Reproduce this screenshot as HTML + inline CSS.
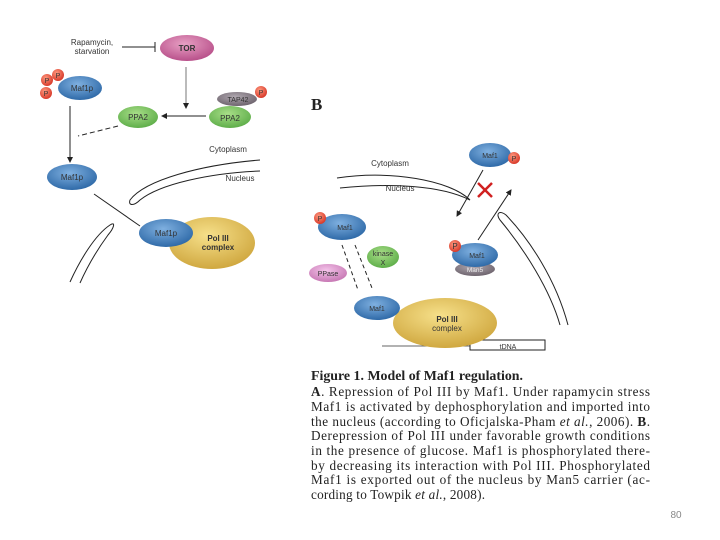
<!DOCTYPE html>
<html><head><meta charset="utf-8"><style>
html,body{margin:0;padding:0;background:#fff;width:720px;height:540px;overflow:hidden}
svg{display:block}
.s{font-family:"Liberation Sans",sans-serif;font-size:8px;fill:#333}
.c{font-family:"Liberation Serif",serif;font-size:13.2px;fill:#222}
</style></head><body>
<svg width="720" height="540" viewBox="0 0 720 540" xmlns="http://www.w3.org/2000/svg">
<defs>
<radialGradient id="bl" cx="45%" cy="35%" r="65%"><stop offset="0" stop-color="#7fb0e0"/><stop offset="1" stop-color="#2f6aa8"/></radialGradient>
<radialGradient id="yl" cx="45%" cy="35%" r="65%"><stop offset="0" stop-color="#f6e08a"/><stop offset="1" stop-color="#d0a840"/></radialGradient>
<radialGradient id="gr" cx="45%" cy="35%" r="65%"><stop offset="0" stop-color="#a8de88"/><stop offset="1" stop-color="#5fae4a"/></radialGradient>
<radialGradient id="pk" cx="45%" cy="35%" r="65%"><stop offset="0" stop-color="#f4c4ea"/><stop offset="1" stop-color="#c778b4"/></radialGradient>
<radialGradient id="tr" cx="45%" cy="35%" r="65%"><stop offset="0" stop-color="#e8a0c4"/><stop offset="1" stop-color="#b8508a"/></radialGradient>
<radialGradient id="gy" cx="45%" cy="35%" r="65%"><stop offset="0" stop-color="#b0a8b0"/><stop offset="1" stop-color="#6e646e"/></radialGradient>
<radialGradient id="rd" cx="40%" cy="35%" r="65%"><stop offset="0" stop-color="#ff9a80"/><stop offset="1" stop-color="#d83a2a"/></radialGradient>
<marker id="ar" markerWidth="6" markerHeight="6" refX="5" refY="3" orient="auto"><path d="M0,0 L6,3 L0,6 z" fill="#222"/></marker>
</defs>
<g stroke="#222" fill="none" stroke-width="1">
<!-- A -->
<line x1="122" y1="47" x2="155" y2="47"/><line x1="155" y1="42" x2="155" y2="52"/>
<line x1="186" y1="67" x2="186" y2="108" stroke="#777" marker-end="url(#ar)"/>
<line x1="206" y1="116" x2="162" y2="116" marker-end="url(#ar)"/>
<line x1="118" y1="126" x2="78" y2="136" stroke-dasharray="5,3"/>
<line x1="70" y1="106" x2="70" y2="162" marker-end="url(#ar)"/>
<line x1="94" y1="194" x2="140" y2="226"/>
<path d="M260,160 C200,165 145,180 130,200 C128,206 134,206 140,200 C160,184 210,173 260,171"/>
<path d="M70,282 C80,260 95,235 110,225 C116,221 114,228 108,235 C97,250 88,265 80,283"/>
<!-- B -->
<path d="M337,178 C390,170 450,180 470,200 C440,185 390,183 340,188"/>
<line x1="483" y1="170" x2="457" y2="216" marker-end="url(#ar)"/>
<line x1="478" y1="240" x2="511" y2="190" marker-end="url(#ar)"/>
<path d="M560,325 C550,290 525,250 500,220 C495,213 500,210 506,215 C530,240 556,280 568,325"/>
<line x1="342" y1="245" x2="358" y2="290" stroke-dasharray="4,3"/>
<line x1="355" y1="245" x2="372" y2="288" stroke-dasharray="4,3"/>
<line x1="382" y1="346" x2="545" y2="346" stroke="#666"/>
<rect x="470" y="340" width="75" height="10" fill="#fff"/>
</g>
<g stroke="#d02020" stroke-width="2.5"><line x1="478" y1="183" x2="492" y2="197"/><line x1="492" y1="183" x2="478" y2="197"/></g>
<!-- shapes A -->
<ellipse cx="187" cy="48" rx="27" ry="13" fill="url(#tr)"/>
<ellipse cx="80" cy="88" rx="22" ry="12" fill="url(#bl)"/>
<circle cx="58" cy="75" r="6" fill="url(#rd)"/><circle cx="47" cy="80" r="6" fill="url(#rd)"/><circle cx="46" cy="93" r="6" fill="url(#rd)"/>
<ellipse cx="138" cy="117" rx="20" ry="11" fill="url(#gr)"/>
<ellipse cx="237" cy="99" rx="20" ry="7" fill="url(#gy)"/>
<ellipse cx="230" cy="117" rx="21" ry="11" fill="url(#gr)"/>
<circle cx="261" cy="92" r="6" fill="url(#rd)"/>
<ellipse cx="72" cy="177" rx="25" ry="13" fill="url(#bl)"/>
<ellipse cx="212" cy="243" rx="43" ry="26" fill="url(#yl)"/>
<ellipse cx="166" cy="233" rx="27" ry="14" fill="url(#bl)"/>
<!-- shapes B -->
<ellipse cx="490" cy="155" rx="21" ry="12" fill="url(#bl)"/><circle cx="514" cy="158" r="6" fill="url(#rd)"/>
<ellipse cx="342" cy="227" rx="24" ry="13" fill="url(#bl)"/><circle cx="320" cy="218" r="6" fill="url(#rd)"/>
<ellipse cx="383" cy="257" rx="16" ry="11" fill="url(#gr)"/>
<ellipse cx="328" cy="273" rx="19" ry="9" fill="url(#pk)"/>
<ellipse cx="445" cy="323" rx="52" ry="25" fill="url(#yl)"/>
<ellipse cx="377" cy="308" rx="23" ry="12" fill="url(#bl)"/>
<ellipse cx="475" cy="269" rx="20" ry="7" fill="url(#gy)"/>
<ellipse cx="475" cy="255" rx="23" ry="12" fill="url(#bl)"/><circle cx="455" cy="246" r="6" fill="url(#rd)"/>
<!-- labels -->
<g class="s">
<text x="92" y="45" text-anchor="middle">Rapamycin,</text><text x="92" y="54" text-anchor="middle">starvation</text>
<text x="187" y="51" text-anchor="middle" font-weight="bold">TOR</text>
<text x="82" y="91" text-anchor="middle">Maf1p</text>
<text x="58" y="78" text-anchor="middle" font-size="7">P</text><text x="47" y="83" text-anchor="middle" font-size="7">P</text><text x="46" y="96" text-anchor="middle" font-size="7">P</text>
<text x="138" y="120" text-anchor="middle">PPA2</text>
<text x="230" y="121" text-anchor="middle">PPA2</text>
<text x="238" y="102" text-anchor="middle" font-size="7">TAP42</text>
<text x="261" y="95" text-anchor="middle" font-size="7">P</text>
<text x="228" y="152" text-anchor="middle">Cytoplasm</text>
<text x="240" y="181" text-anchor="middle">Nucleus</text>
<text x="72" y="180" text-anchor="middle">Maf1p</text>
<text x="166" y="236" text-anchor="middle">Maf1p</text>
<text x="218" y="241" text-anchor="middle" font-weight="bold">Pol III</text><text x="218" y="250" text-anchor="middle" font-weight="bold">complex</text>
<text x="490" y="158" text-anchor="middle" font-size="7">Maf1</text><text x="514" y="161" text-anchor="middle" font-size="7">P</text>
<text x="390" y="166" text-anchor="middle">Cytoplasm</text>
<text x="400" y="191" text-anchor="middle">Nucleus</text>
<text x="345" y="230" text-anchor="middle" font-size="7">Maf1</text><text x="320" y="221" text-anchor="middle" font-size="7">P</text>
<text x="383" y="256" text-anchor="middle" font-size="7">kinase</text><text x="383" y="265" text-anchor="middle" font-size="7">X</text>
<text x="328" y="276" text-anchor="middle" font-size="7">PPase</text>
<text x="377" y="311" text-anchor="middle" font-size="7">Maf1</text>
<text x="447" y="322" text-anchor="middle" font-weight="bold">Pol III</text><text x="447" y="331" text-anchor="middle">complex</text>
<text x="477" y="258" text-anchor="middle" font-size="7">Maf1</text><text x="455" y="249" text-anchor="middle" font-size="8">P</text>
<text x="475" y="272" text-anchor="middle" font-size="6.5" fill="#eee">Man5</text>
<text x="508" y="349" text-anchor="middle" font-size="7">tDNA</text>
</g>
<text x="311" y="110" font-family="Liberation Serif,serif" font-weight="bold" font-size="17" fill="#222">B</text>
<g class="c">
<text x="311" y="380" font-weight="bold" textLength="212" lengthAdjust="spacingAndGlyphs">Figure 1. Model of Maf1 regulation.</text>
<text x="311" y="396" textLength="339" lengthAdjust="spacing"><tspan font-weight="bold">A</tspan>. Repression of Pol III by Maf1. Under rapamycin stress</text>
<text x="311" y="411" textLength="339" lengthAdjust="spacing">Maf1 is activated by dephosphorylation and imported into</text>
<text x="311" y="426" textLength="339" lengthAdjust="spacing">the nucleus (according to Oficjalska-Pham <tspan font-style="italic">et al.</tspan>, 2006). <tspan font-weight="bold">B</tspan>.</text>
<text x="311" y="440" textLength="339" lengthAdjust="spacing">Derepression of Pol III under favorable growth conditions</text>
<text x="311" y="455" textLength="339" lengthAdjust="spacing">in the presence of glucose.  Maf1 is phosphorylated there-</text>
<text x="311" y="470" textLength="339" lengthAdjust="spacing">by decreasing its interaction with Pol III. Phosphorylated</text>
<text x="311" y="484" textLength="339" lengthAdjust="spacing">Maf1 is exported out of the nucleus by Man5 carrier (ac-</text>
<text x="311" y="499" textLength="174" lengthAdjust="spacing">cording to Towpik <tspan font-style="italic">et al.</tspan>, 2008).</text>
</g>
<text x="676" y="518" text-anchor="middle" font-family="Liberation Sans,sans-serif" font-size="10" fill="#888">80</text>
</svg>
</body></html>
